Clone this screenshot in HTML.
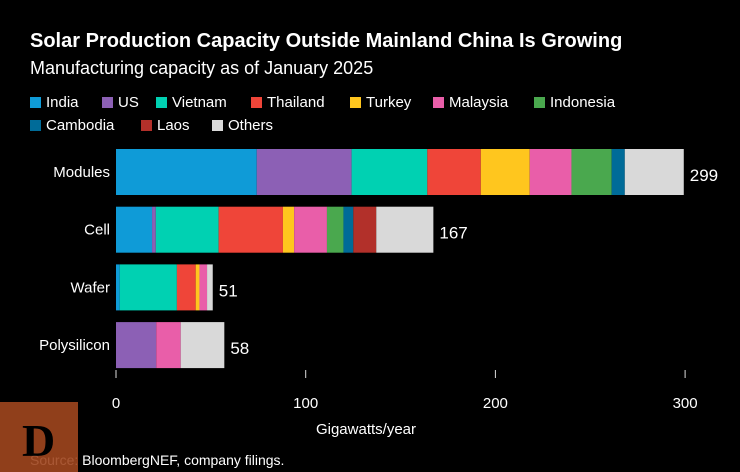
<!DOCTYPE html>
<html><head><meta charset="utf-8"><style>
body{margin:0;background:#000;width:740px;height:472px;overflow:hidden;font-family:"Liberation Sans",sans-serif;color:#fff;position:relative}
.t{position:absolute;white-space:nowrap}
.lg{position:absolute;font-size:15px;white-space:nowrap}
.lg i{display:inline-block;width:11px;height:11px;margin-right:5px;vertical-align:-1px}
</style></head><body>
<div class="t" style="left:30px;top:30px;font-size:20px;font-weight:bold">Solar Production Capacity Outside Mainland China Is Growing</div>
<div class="t" style="left:30px;top:58px;font-size:18px">Manufacturing capacity as of January 2025</div>
<div id="legend"></div>
<svg id="chart" width="740" height="472" style="position:absolute;left:0;top:0"></svg>
<div class="t" style="left:30px;top:452px;font-size:14px">Source: BloombergNEF, company filings.</div>
<div style="position:absolute;left:0;top:402px;width:78px;height:70px;background:#a0461f;opacity:.9"><span style="position:absolute;left:22px;top:12px;font-family:'Liberation Serif',serif;font-weight:bold;font-size:46px;color:#000">D</span></div>
<script>
const series=["India","US","Vietnam","Thailand","Turkey","Malaysia","Indonesia","Cambodia","Laos","Others"];
const colors=["#0f9bd7","#8c60b5","#00d1b2","#ef4539","#ffc61e","#e95ea9","#4aa84e","#006b98","#b2302a","#d9d9d9"];
const categories=["Modules","Cell","Wafer","Polysilicon"];
const totals=[299,167,51,58];
const modules=[74.2,50.0,39.9,28.2,25.8,22.0,21.2,6.9,0,31.1];
const cell=[19.0,2.0,33.1,33.9,5.9,17.3,8.7,5.2,12.1,30.1];
const wafer=[2.0,0,30.1,9.9,2.0,4.0,0,0,0,3.0];
const polysilicon=[0,21.2,0,0,0,12.9,0,0,0,23.0];
const values=[modules,cell,wafer,polysilicon];
const ticks=[0,100,200,300];
const x0=116,pxPer=1.897;
const xs=v=>x0+v*pxPer;
const barTop=i=>149+i*57.7, barH=46;
const NS="http://www.w3.org/2000/svg";
const svg=document.getElementById('chart');
function mk(tag,at){const e=document.createElementNS(NS,tag);for(const k in at)e.setAttribute(k,at[k]);svg.appendChild(e);return e;}
const legPos=[[30,94],[102,94],[156,94],[251,94],[350,94],[433,94],[534,94],[30,117],[141,117],[212,117]];
const L=document.getElementById('legend');
series.forEach((s,i)=>{const d=document.createElement('div');d.className='lg';d.style.left=legPos[i][0]+'px';d.style.top=legPos[i][1]+'px';


d.innerHTML='<i style="background:'+colors[i]+'"></i>'+s;L.appendChild(d);});
ticks.forEach(t=>{const l=mk('line',{x1:xs(t),x2:xs(t),y1:370,y2:378,stroke:'#ddd','stroke-width':1});


const tx=mk('text',{x:xs(t),y:408,fill:'#fff','font-size':15,'text-anchor':'middle'});tx.textContent=t;

});
const at=mk('text',{x:366,y:434,fill:'#fff','font-size':15,'text-anchor':'middle'});at.textContent='Gigawatts/year';


categories.forEach((c,ci)=>{const y=barTop(ci);let acc=0;
values[ci].forEach((v,si)=>{if(v>0){const r=mk('rect',{x:xs(acc),y:y,width:v*pxPer,height:barH,fill:colors[si]});

}acc+=v;});
const lb=mk('text',{x:110,y:y+barH/2+5,fill:'#fff','font-size':15,'text-anchor':'end'});lb.textContent=c;


const vl=mk('text',{x:xs(acc)+6,y:y+barH/2+9,fill:'#fff','font-size':17});vl.textContent=totals[ci];

});
</script>
</body></html>
